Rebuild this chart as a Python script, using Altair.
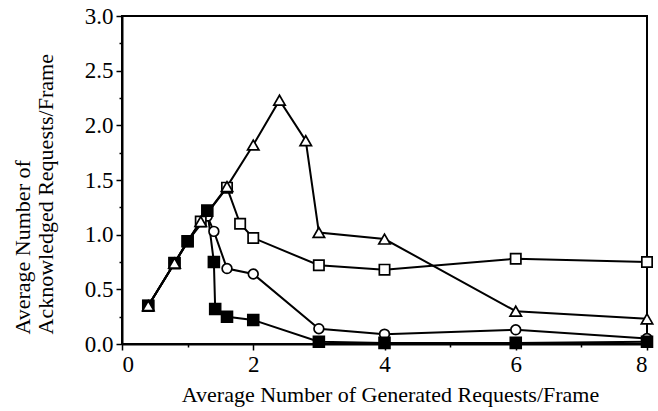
import altair as alt
import pandas as pd

# Series
tri_x = [0.4, 0.8, 1.2, 1.6, 2.0, 2.4, 2.8, 3.0, 4.0, 6.0, 8.0]
tri_y = [0.35, 0.74, 1.12, 1.44, 1.82, 2.23, 1.86, 1.02, 0.96, 0.30, 0.23]

osq_x = [0.4, 0.8, 1.0, 1.2, 1.6, 1.8, 2.0, 3.0, 4.0, 6.0, 8.0]
osq_y = [0.35, 0.74, 0.94, 1.12, 1.43, 1.10, 0.97, 0.72, 0.68, 0.78, 0.75]

cir_x = [0.4, 0.8, 1.0, 1.3, 1.4, 1.6, 2.0, 3.0, 4.0, 6.0, 8.0]
cir_y = [0.35, 0.74, 0.94, 1.17, 1.03, 0.69, 0.64, 0.14, 0.09, 0.13, 0.05]

fsq_x = [0.4, 0.8, 1.0, 1.3, 1.4, 1.42, 1.6, 2.0, 3.0, 4.0, 6.0, 8.0]
fsq_y = [0.35, 0.74, 0.94, 1.22, 0.75, 0.32, 0.25, 0.22, 0.02, 0.01, 0.01, 0.02]

series_names = ["circle", "open_square", "filled_square", "triangle"]
series_shapes = ["circle", "square", "square", "triangle-up"]
series_fills = ["white", "white", "black", "white"]
series_sizes = [95, 130, 90, 250]

x_ticks = [0, 1, 2, 3, 4, 5, 6, 7, 8]
y_ticks = [0, 0.25, 0.5, 0.75, 1.0, 1.25, 1.5, 1.75, 2.0, 2.25, 2.5, 2.75, 3.0]

x_title = "Average Number of Generated Requests/Frame"
y_title = ["Average Number of", "Acknowledged Requests/Frame"]

rows = []
for name, xs, ys in [("circle", cir_x, cir_y), ("open_square", osq_x, osq_y),
                     ("filled_square", fsq_x, fsq_y), ("triangle", tri_x, tri_y)]:
    for i, (a, b) in enumerate(zip(xs, ys)):
        rows.append({"series": name, "x": a, "y": b, "idx": i})
df = pd.DataFrame(rows)

FONT = "Liberation Serif"

x_enc = alt.X(
    "x:Q",
    scale=alt.Scale(domain=[0, 8], nice=False, zero=False),
    axis=alt.Axis(
        values=x_ticks,
        labelExpr="datum.value % 2 == 0 ? format(datum.value, 'd') : ''",
        tickSize={"condition": {"test": "datum.value % 2 != 0", "value": 3}, "value": 6},
        title=x_title,
        titleX=268,
        titleY=57,
        titleBaseline="alphabetic",
        titleAnchor="middle",
        labelPadding=3,
    ),
)
y_enc = alt.Y(
    "y:Q",
    scale=alt.Scale(domain=[0, 3], nice=False),
    axis=alt.Axis(
        values=y_ticks,
        labelExpr="datum.value % 0.5 == 0 ? format(datum.value, '.1f') : ''",
        tickSize={"condition": {"test": "datum.value % 0.5 != 0", "value": 3}, "value": 6},
        title=y_title,
        titleAngle=-90,
        titleAlign="left",
        titleBaseline="top",
        titleX=-110,
        titleY=318,
        titleLineHeight=23,
        labelPadding=3,
    ),
)

lines = alt.Chart(df).mark_line(color="black", strokeWidth=2).encode(
    x=x_enc, y=y_enc, detail="series:N", order="idx:Q"
)

points = alt.Chart(df).mark_point(filled=True, stroke="black", strokeWidth=1.7, opacity=1).encode(
    x=x_enc,
    y=y_enc,
    shape=alt.Shape("series:N", scale=alt.Scale(domain=series_names, range=series_shapes), legend=None),
    fill=alt.Fill("series:N", scale=alt.Scale(domain=series_names, range=series_fills), legend=None),
    size=alt.Size("series:N", scale=alt.Scale(domain=series_names, range=series_sizes), legend=None),
)

chart = alt.layer(lines, points).properties(
    width=525,
    height=328,
    background="white",
    autosize=alt.AutoSizeParams(type="none"),
    padding={"left": 122, "top": 16, "right": 11, "bottom": 67},
).configure_view(
    stroke="black", strokeWidth=2
).configure_axis(
    domainColor="black", domainWidth=2, tickColor="black", tickWidth=1.5,
    labelFont=FONT, labelFontSize=23, labelColor="black",
    titleFont=FONT, titleFontSize=22, titleColor="black", titleFontWeight="normal",
    grid=False,
)

chart.save("out.html", embed_options={"renderer": "svg", "actions": False})
